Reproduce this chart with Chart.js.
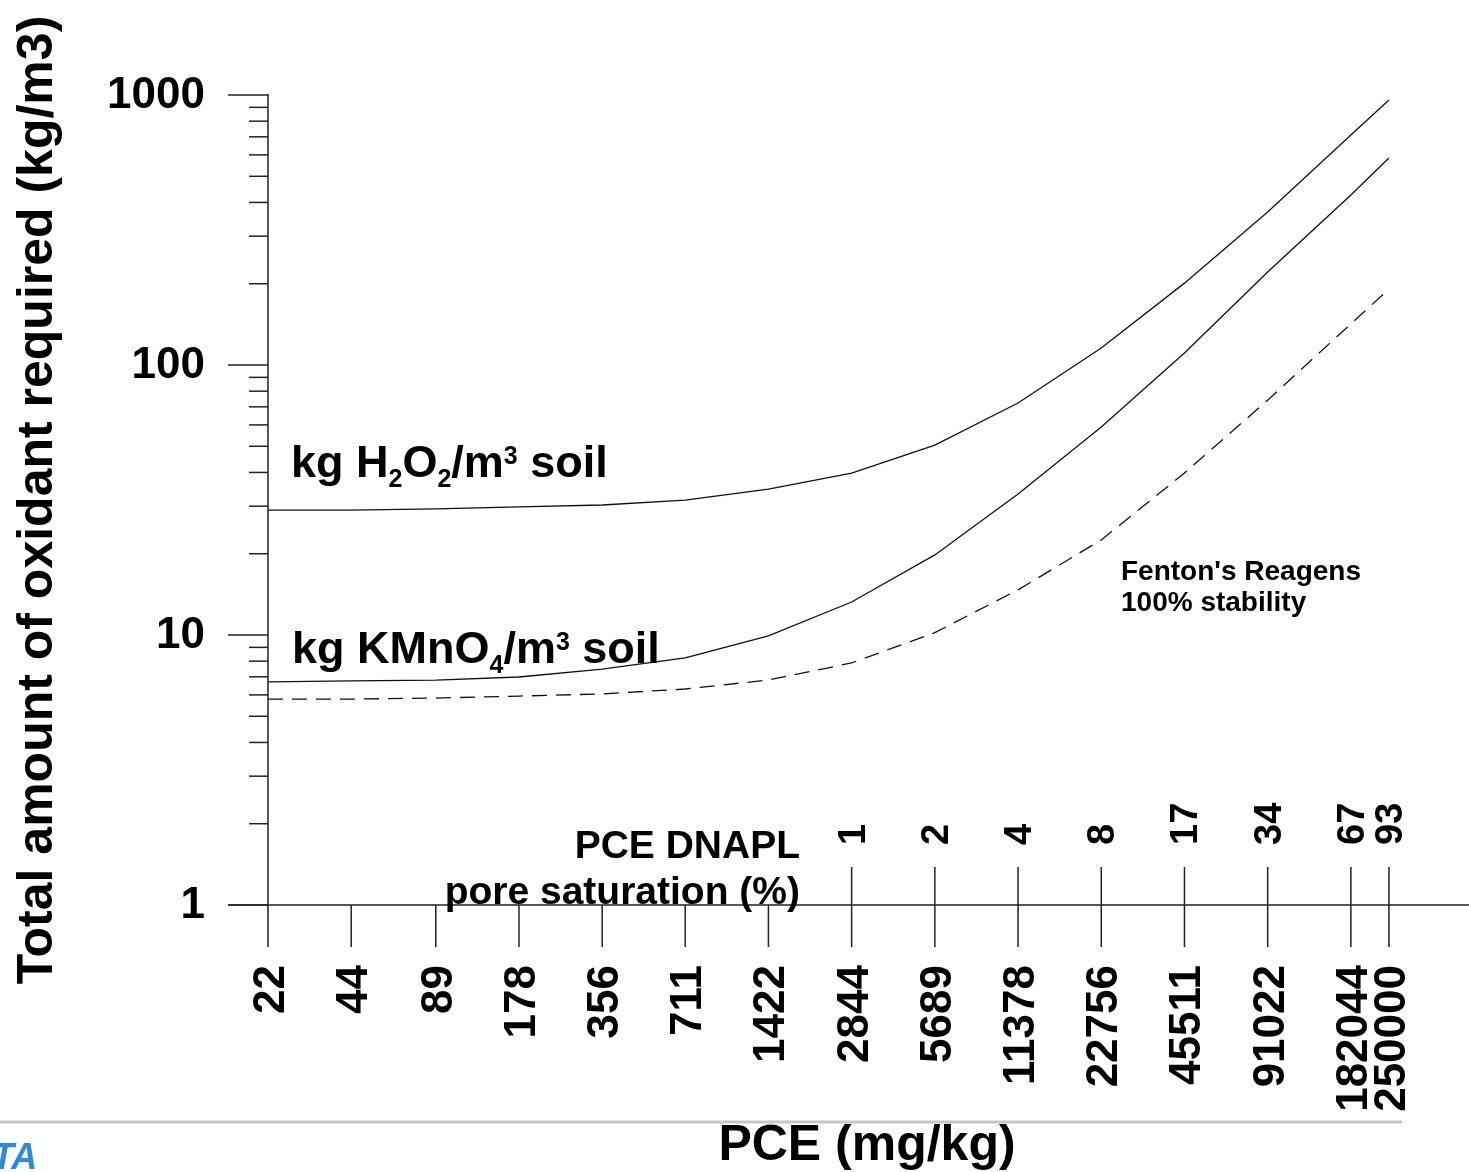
<!DOCTYPE html>
<html>
<head>
<meta charset="utf-8">
<script src="https://cdn.jsdelivr.net/npm/chart.js@4.4.1/dist/chart.umd.min.js"></script>
<style>
  html, body { margin: 0; padding: 0; background: #fff; }
  canvas { display: block; }
</style>
</head>
<body>
<canvas id="oxidantChart" width="1469" height="1172"></canvas>
<script>
// PCE concentration in soil (mg/kg)
const pceMgKg = [22, 44, 89, 178, 356, 711, 1422, 2844, 5689, 11378, 22756, 45511, 91022, 182044, 250000];
// oxidant demand (kg/m3 soil)
const h2o2Kg   = [29.0, 29.0, 29.3, 29.8, 30.3, 31.6, 34.7, 39.8, 50.5, 72.3, 115.6, 201, 369, 711, 958];
const kmno4Kg  = [6.70, 6.76, 6.81, 6.99, 7.48, 8.22, 9.92, 13.25, 19.8, 33.3, 58.9, 110.8, 221, 426, 584];
const fentonKg = [5.79, 5.79, 5.84, 5.94, 6.05, 6.31, 6.81, 7.88, 10.2, 14.7, 22.5, 39.8, 74.1, 142, 191];
// DNAPL pore saturation (%) at the upper PCE concentrations
const saturationPce = [2844, 5689, 11378, 22756, 45511, 91022, 182044, 250000];
const saturationPct = [1, 2, 4, 8, 17, 34, 67, 93];
const yTickValues = [1, 10, 100, 1000];

const FAMILY = '"Liberation Sans", Arial, Helvetica, sans-serif';
const font = (size, style) => (style || 'bold') + ' ' + size + 'px ' + FAMILY;

function toPoints(ys) {
  return pceMgKg.map((x, i) => ({ x: x, y: ys[i] }));
}

function hText(ctx, s, x, y, size, align) {
  ctx.font = font(size);
  ctx.textAlign = align || 'left';
  ctx.textBaseline = 'alphabetic';
  ctx.fillText(s, x, y);
}

// text running bottom-to-top
function vText(ctx, s, x, y, size, align) {
  ctx.save();
  ctx.translate(x, y);
  ctx.rotate(-Math.PI / 2);
  ctx.font = font(size);
  ctx.textAlign = align;
  ctx.textBaseline = 'alphabetic';
  ctx.fillText(s, 0, 0);
  ctx.restore();
}

// label with sub/superscripts: parts = [[text, 'sub'|'sup'|undefined], ...]
function richText(ctx, parts, x, y, size) {
  ctx.textAlign = 'left';
  ctx.textBaseline = 'alphabetic';
  let cx = x;
  parts.forEach(([s, kind]) => {
    let sz = size, dy = 0;
    if (kind === 'sub') { sz = Math.round(size * 0.56); dy = 10; }
    if (kind === 'sup') { sz = Math.round(size * 0.56); dy = -13; }
    ctx.font = font(sz);
    ctx.fillText(s, cx, y + dy);
    cx += ctx.measureText(s).width;
  });
}

function line(ctx, x1, y1, x2, y2) {
  ctx.beginPath();
  ctx.moveTo(x1, y1);
  ctx.lineTo(x2, y2);
  ctx.stroke();
}

const axesPlugin = {
  id: 'axesPlugin',
  afterDraw(chart) {
    const ctx = chart.ctx;
    const xs = chart.scales.x, ys = chart.scales.y;
    const area = chart.chartArea;
    const y0 = ys.getPixelForValue(1);
    const x0 = xs.getPixelForValue(pceMgKg[0]);
    ctx.save();
    ctx.strokeStyle = '#222';
    ctx.fillStyle = '#000';
    ctx.lineWidth = 1.5;

    // y axis with decade and minor ticks
    line(ctx, x0, ys.getPixelForValue(1000) - 1, x0, y0);
    for (let d = 1; d < 1000; d *= 10) {
      for (let m = 2; m <= 9; m++) {
        const py = ys.getPixelForValue(d * m);
        line(ctx, x0 - 19, py, x0, py);
      }
    }
    yTickValues.forEach(v => {
      const py = ys.getPixelForValue(v);
      line(ctx, x0 - 40, py, x0, py);
      ctx.font = font(44);
      ctx.textAlign = 'right';
      ctx.textBaseline = 'middle';
      ctx.fillText(String(v), 205, py + 1);
    });

    // x axis along y = 1
    line(ctx, x0 - 40, y0, area.right, y0);
    pceMgKg.forEach(v => {
      const px = xs.getPixelForValue(v);
      line(ctx, px, y0, px, y0 + 42);
      vText(ctx, String(v), px + 16, 965, 44, 'right');
    });
    saturationPce.forEach((v, i) => {
      const px = xs.getPixelForValue(v);
      line(ctx, px, y0 - 38, px, y0);
      vText(ctx, String(saturationPct[i]), px + 13, 845, 38, 'left');
    });
    hText(ctx, 'PCE DNAPL', 800, 858, 39, 'right');
    hText(ctx, 'pore saturation (%)', 800, 904, 39, 'right');

    // axis titles
    vText(ctx, 'Total amount of oxidant required (kg/m3)', 52, 500, 50, 'center');
    hText(ctx, 'PCE (mg/kg)', 867, 1160, 50, 'center');

    // curve labels
    richText(ctx, [['kg H'], ['2', 'sub'], ['O'], ['2', 'sub'], ['/m'], ['3', 'sup'], [' soil']], 291, 477, 45);
    richText(ctx, [['kg KMnO'], ['4', 'sub'], ['/m'], ['3', 'sup'], [' soil']], 292, 663, 45);
    hText(ctx, "Fenton's Reagens", 1121, 580, 28);
    hText(ctx, '100% stability', 1121, 611, 28);

    // slide footer
    ctx.strokeStyle = '#c6c6c6';
    ctx.lineWidth = 3;
    line(ctx, 0, 1122, 1402, 1122);
    ctx.fillStyle = '#2f8ad8';
    ctx.font = font(36, 'italic 900');
    ctx.textAlign = 'left';
    ctx.fillText('TA', -8, 1169);
    ctx.restore();
  }
};

const ctx = document.getElementById('oxidantChart').getContext('2d');
const chart = new Chart(ctx, {
  type: 'line',
  data: {
    datasets: [{
      label: 'kg H2O2/m3 soil',
      data: toPoints(h2o2Kg),
      borderColor: '#111',
      borderWidth: 1.3
    }, {
      label: 'kg KMnO4/m3 soil',
      data: toPoints(kmno4Kg),
      borderColor: '#111',
      borderWidth: 1.3
    }, {
      label: "Fenton's Reagens 100% stability",
      data: toPoints(fentonKg),
      borderColor: '#111',
      borderWidth: 1.3,
      borderDash: [15, 9]
    }]
  },
  options: {
    responsive: false,
    animation: false,
    devicePixelRatio: 1,
    layout: { padding: { left: 268, top: 95, right: 0, bottom: 267 } },
    elements: { point: { radius: 0 }, line: { tension: 0, fill: false } },
    plugins: { legend: { display: false }, tooltip: { enabled: false } },
    scales: {
      x: { type: 'logarithmic', min: 22, max: 487000, display: false },
      y: { type: 'logarithmic', min: 1, max: 1000, display: false }
    }
  },
  plugins: [axesPlugin]
});
</script>
</body>
</html>
